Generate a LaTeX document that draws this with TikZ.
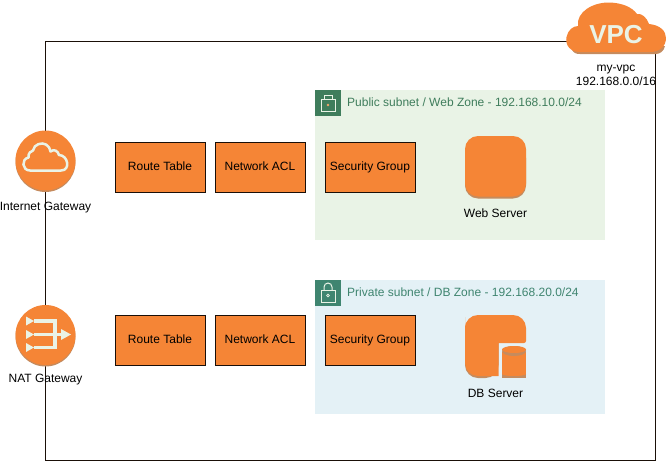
\documentclass[tikz,border=0pt]{standalone}
\usepackage{fontspec}
\setmainfont{Liberation Sans}
\definecolor{awsor}{HTML}{F58536}
\definecolor{awssh}{HTML}{C58B5E}
\definecolor{awsicon}{HTML}{EAF3E6}
\definecolor{pubfill}{HTML}{E9F3E6}
\definecolor{prifill}{HTML}{E4F1F6}
\definecolor{pubgreen}{HTML}{3F7D5C}
\definecolor{prigreen}{HTML}{3F8570}
\definecolor{frame}{HTML}{1A0F08}
\tikzset{
  px/.style={x=1pt,y=-1pt},
  lbl/.style={inner sep=0pt,font=\fontsize{12}{14}\selectfont,text=black,align=center},
  resbox/.style={draw=frame,line width=1pt,fill=awsor,minimum width=90pt,minimum height=50pt,inner sep=0pt,font=\fontsize{12}{14}\selectfont,text height=8.5pt,text depth=2.5pt},
  subnet/.style={draw=none,minimum width=290pt,inner sep=0pt},
  sublbl/.style={inner sep=0pt,anchor=west,font=\fontsize{12}{14}\selectfont,text height=8.5pt,text depth=2.5pt},
  iconstroke/.style={draw=awsicon,line width=1pt,fill=none},
  glyph/.style={draw=awsicon,line width=2.5pt,fill=none}
}
\begin{document}
\begin{tikzpicture}[px]
\useasboundingbox (0,0) rectangle (666,461);
% VPC frame
\node[draw=frame,line width=1pt,minimum width=610pt,minimum height=419pt,inner sep=0pt] (vpc) at (350,250.5) {};
% subnets
\node[subnet,fill=pubfill,minimum height=150pt] (pub) at (460,165) {};
\node[subnet,fill=prifill,minimum height=134pt] (pri) at (460,347) {};
% subnet icons
\node[fill=pubgreen,minimum size=26pt,inner sep=0pt] (pubicon) at (328,103) {};
\node[fill=prigreen,minimum size=26pt,inner sep=0pt] (priicon) at (328,293) {};
\draw[iconstroke] (321,99) rectangle (335,111);
\draw[iconstroke] (324,99) -- (324,95) -- (332,95) -- (332,99);
\fill[awsor!70!awsicon] (328,105) circle (1.4);
\draw[iconstroke] (321,290) rectangle (335,302);
\draw[iconstroke] (324,290) -- (324,287) arc[start angle=180,end angle=360,radius=4] -- (332,290);
\draw[iconstroke,line width=.7pt] (328,295.5) circle (1.4);
\node[sublbl,text=pubgreen] (publbl) at (347,103.5) {Public subnet / Web Zone - 192.168.10.0/24};
\node[sublbl,text=prigreen] (prilbl) at (347,293.5) {Private subnet / DB Zone - 192.168.20.0/24};
% boxes
\node[resbox] (rt1) at (160,167) {Route Table};
\node[resbox] (acl1) at (260,167) {Network ACL};
\node[resbox] (sg1) at (370,167) {Security Group};
\node[resbox] (rt2) at (160,340) {Route Table};
\node[resbox] (acl2) at (260,340) {Network ACL};
\node[resbox] (sg2) at (370,340) {Security Group};
% web server
\fill[awssh,rounded corners=13pt] (465,145) rectangle (526,198.5);
\fill[awsor,rounded corners=13pt] (465,136) rectangle (526,196.5);
\node[lbl] (web) at (495.5,213.5) {Web Server};
% db server
\fill[awssh,rounded corners=13pt] (465,330) -- (465,378) -- (498.5,378) [sharp corners] -- (498.5,330) -- cycle;
\fill[awsor] (465,330) [rounded corners=13pt] -- (465,315) -- (526,315) [rounded corners=2pt] -- (526,343) [sharp corners] -- (498.5,343) -- (498.5,376) [rounded corners=13pt] -- (465,376) -- (465,340) -- cycle;
\fill[awssh] (502,355) rectangle (526,378);
\fill[awsor] (502,352) rectangle (526,374);
\fill[awsor] (502,374) arc[start angle=180,end angle=0,x radius=12,y radius=2] -- cycle;
\fill[awssh] (514,351) ellipse (12 and 5);
\fill[awsor] (514,349.5) ellipse (12 and 3.5);
\node[lbl] (db) at (495.5,393.5) {DB Server};
% gateways
\fill[awssh] (45.5,162) circle (30);
\node[circle,fill=awsor,minimum size=60pt,inner sep=0pt] (igw) at (45.5,160.5) {};
\draw[glyph,line join=round] (30,170.5) .. controls (22,170.5) and (21,159) .. (28.5,157.5) .. controls (28,153) and (31,151) .. (33,150.5) .. controls (34,144) and (42,142) .. (46,144.5) .. controls (49,146) and (50,149) .. (50.5,151.5) .. controls (54,148.5) and (58,151) .. (59,155) .. controls (68,155) and (71,170.5) .. (61,170.5) -- cycle;
\node[lbl] (igwl) at (45.5,207.5) {Internet Gateway};
\fill[awssh] (45.5,336.5) circle (30);
\node[circle,fill=awsor,minimum size=60pt,inner sep=0pt] (nat) at (45.5,335) {};
\draw[glyph,line width=3.5pt] (34,321) -- (55,321) -- (55,347.5) -- (34,347.5);
\draw[glyph,line width=3.5pt] (34,334.5) -- (62,334.5);
\fill[awsicon] (26,316.5) -- (34,321) -- (26,325.5) -- cycle;
\fill[awsicon] (26,330) -- (34,334.5) -- (26,339) -- cycle;
\fill[awsicon] (26,343) -- (34,347.5) -- (26,352) -- cycle;
\fill[awsicon] (61,329) -- (71,334.5) -- (61,340) -- cycle;
\node[lbl] (natl) at (45.5,380) {NAT Gateway};
% VPC cloud
\fill[awssh] (572,50) .. controls (574,53) and (576,54) .. (580,54) -- (656,54) .. controls (660,54) and (664,51) .. (665,46) -- cycle;
\fill[awsor] (580,52) .. controls (570,52) and (565,45) .. (566.5,37) .. controls (568,30) and (573,26) .. (578,26) .. controls (576,12) and (593,2) .. (610,2.5) .. controls (622,3) and (632,7) .. (637,14) .. controls (642,13) and (647,18) .. (649,24) .. controls (660,25) and (666,31) .. (666,38) .. controls (666,46) and (660,52) .. (650,52) -- cycle;
\node[inner sep=0pt,text=awsicon,font=\fontsize{26}{26}\selectfont\bfseries] (vpct) at (616,35) {VPC};
\node[lbl] (vpcl) at (616,75.5) {my-vpc\\192.168.0.0/16};
\end{tikzpicture}
\end{document}
